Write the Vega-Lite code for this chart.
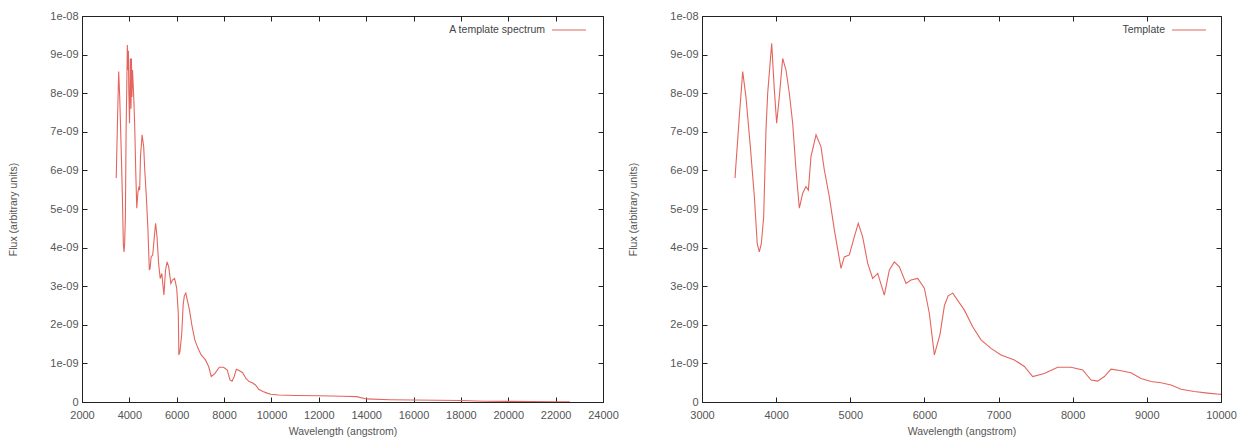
{
  "$schema": "https://vega.github.io/schema/vega-lite/v6.json",
  "autosize": {"type": "pad"},
  "padding": {"left": 8, "top": 9, "right": 0, "bottom": 0},
  "bounds": "flush",
  "spacing": 99,
  "background": "white",
  "config": {
    "view": {"stroke": "#222", "strokeWidth": 1},
    "axis": {
      "labelFont": "Liberation Sans", "labelFontSize": 11, "labelColor": "#555",
      "titleFont": "Liberation Sans", "titleFontSize": 10.5, "titleFontWeight": "normal", "titleColor": "#555",
      "domainColor": "#222", "tickColor": "#222", "grid": false, "tickSize": -5,
      "labelFlush": false, "labelOverlap": false
    },
    "axisX": {"labelPadding": 12, "titlePadding": 6},
    "axisY": {"labelPadding": 9, "titlePadding": 31},
    "legend": {"labelFont": "Liberation Sans", "labelFontSize": 10.5, "labelColor": "#444", "padding": 0},
    "line": {"strokeWidth": 1.1}
  },
  "datasets": {
    "left": [
      {"wavelength": 3445, "flux": 5.8e-9}, {"wavelength": 3503, "flux": 7.39e-9}, {"wavelength": 3549, "flux": 8.56e-9},
      {"wavelength": 3593, "flux": 7.9e-9}, {"wavelength": 3652, "flux": 6.61e-9}, {"wavelength": 3706, "flux": 5.32e-9},
      {"wavelength": 3745, "flux": 4.1e-9}, {"wavelength": 3773, "flux": 3.89e-9}, {"wavelength": 3800, "flux": 4.1e-9},
      {"wavelength": 3832, "flux": 4.8e-9}, {"wavelength": 3863, "flux": 7.05e-9}, {"wavelength": 3886, "flux": 8.0e-9},
      {"wavelength": 3915, "flux": 9.25e-9}, {"wavelength": 3940, "flux": 8.6e-9}, {"wavelength": 3960, "flux": 9.1e-9},
      {"wavelength": 3976, "flux": 8.08e-9}, {"wavelength": 4007, "flux": 7.22e-9}, {"wavelength": 4043, "flux": 8.9e-9},
      {"wavelength": 4070, "flux": 7.6e-9}, {"wavelength": 4088, "flux": 8.9e-9}, {"wavelength": 4110, "flux": 7.9e-9},
      {"wavelength": 4133, "flux": 8.6e-9}, {"wavelength": 4178, "flux": 8.0e-9}, {"wavelength": 4223, "flux": 7.22e-9},
      {"wavelength": 4268, "flux": 6.01e-9}, {"wavelength": 4313, "flux": 5.02e-9}, {"wavelength": 4358, "flux": 5.41e-9},
      {"wavelength": 4403, "flux": 5.58e-9}, {"wavelength": 4435, "flux": 5.49e-9}, {"wavelength": 4470, "flux": 6.36e-9},
      {"wavelength": 4538, "flux": 6.92e-9}, {"wavelength": 4605, "flux": 6.61e-9}, {"wavelength": 4650, "flux": 6.01e-9},
      {"wavelength": 4717, "flux": 5.32e-9}, {"wavelength": 4785, "flux": 4.46e-9}, {"wavelength": 4843, "flux": 3.42e-9},
      {"wavelength": 4875, "flux": 3.46e-9}, {"wavelength": 4919, "flux": 3.76e-9}, {"wavelength": 4987, "flux": 3.81e-9},
      {"wavelength": 5054, "flux": 4.28e-9}, {"wavelength": 5108, "flux": 4.63e-9}, {"wavelength": 5167, "flux": 4.28e-9},
      {"wavelength": 5235, "flux": 3.59e-9}, {"wavelength": 5302, "flux": 3.2e-9}, {"wavelength": 5370, "flux": 3.33e-9},
      {"wavelength": 5459, "flux": 2.77e-9}, {"wavelength": 5527, "flux": 3.42e-9}, {"wavelength": 5594, "flux": 3.63e-9},
      {"wavelength": 5662, "flux": 3.5e-9}, {"wavelength": 5752, "flux": 3.07e-9}, {"wavelength": 5819, "flux": 3.16e-9},
      {"wavelength": 5909, "flux": 3.2e-9}, {"wavelength": 5999, "flux": 2.95e-9}, {"wavelength": 6066, "flux": 2.3e-9},
      {"wavelength": 6090, "flux": 1.22e-9}, {"wavelength": 6134, "flux": 1.3e-9}, {"wavelength": 6210, "flux": 1.75e-9},
      {"wavelength": 6270, "flux": 2.5e-9}, {"wavelength": 6320, "flux": 2.75e-9}, {"wavelength": 6382, "flux": 2.82e-9},
      {"wavelength": 6539, "flux": 2.38e-9}, {"wavelength": 6651, "flux": 1.95e-9}, {"wavelength": 6763, "flux": 1.61e-9},
      {"wavelength": 6898, "flux": 1.39e-9}, {"wavelength": 7033, "flux": 1.22e-9}, {"wavelength": 7213, "flux": 1.09e-9},
      {"wavelength": 7348, "flux": 0.92e-9}, {"wavelength": 7460, "flux": 0.66e-9}, {"wavelength": 7617, "flux": 0.74e-9},
      {"wavelength": 7797, "flux": 0.9e-9}, {"wavelength": 7977, "flux": 0.9e-9}, {"wavelength": 8135, "flux": 0.83e-9},
      {"wavelength": 8247, "flux": 0.57e-9}, {"wavelength": 8337, "flux": 0.54e-9}, {"wavelength": 8427, "flux": 0.66e-9},
      {"wavelength": 8517, "flux": 0.85e-9}, {"wavelength": 8652, "flux": 0.81e-9}, {"wavelength": 8786, "flux": 0.76e-9},
      {"wavelength": 8921, "flux": 0.61e-9}, {"wavelength": 9056, "flux": 0.53e-9}, {"wavelength": 9191, "flux": 0.5e-9},
      {"wavelength": 9326, "flux": 0.44e-9}, {"wavelength": 9461, "flux": 0.33e-9}, {"wavelength": 9640, "flux": 0.27e-9},
      {"wavelength": 9821, "flux": 0.23e-9}, {"wavelength": 9978, "flux": 0.2e-9}, {"wavelength": 10300, "flux": 0.18e-9},
      {"wavelength": 11000, "flux": 0.17e-9}, {"wavelength": 12000, "flux": 0.16e-9}, {"wavelength": 13000, "flux": 0.15e-9},
      {"wavelength": 13600, "flux": 0.14e-9}, {"wavelength": 14000, "flux": 0.08e-9}, {"wavelength": 15000, "flux": 0.06e-9},
      {"wavelength": 16000, "flux": 0.05e-9}, {"wavelength": 17000, "flux": 0.045e-9}, {"wavelength": 18000, "flux": 0.04e-9},
      {"wavelength": 19000, "flux": 0.02e-9}, {"wavelength": 20000, "flux": 0.015e-9}, {"wavelength": 21000, "flux": 0.01e-9},
      {"wavelength": 22000, "flux": 0.008e-9}, {"wavelength": 22600, "flux": 0.005e-9}
    ],
    "right": [
      {"wavelength": 3445, "flux": 5.8e-9}, {"wavelength": 3503, "flux": 7.39e-9}, {"wavelength": 3549, "flux": 8.56e-9},
      {"wavelength": 3593, "flux": 7.9e-9}, {"wavelength": 3652, "flux": 6.61e-9}, {"wavelength": 3706, "flux": 5.32e-9},
      {"wavelength": 3745, "flux": 4.1e-9}, {"wavelength": 3773, "flux": 3.89e-9}, {"wavelength": 3800, "flux": 4.1e-9},
      {"wavelength": 3832, "flux": 4.8e-9}, {"wavelength": 3863, "flux": 7.05e-9}, {"wavelength": 3886, "flux": 8.0e-9},
      {"wavelength": 3940, "flux": 9.29e-9}, {"wavelength": 3976, "flux": 8.08e-9}, {"wavelength": 4007, "flux": 7.22e-9},
      {"wavelength": 4043, "flux": 7.91e-9}, {"wavelength": 4088, "flux": 8.9e-9}, {"wavelength": 4133, "flux": 8.6e-9},
      {"wavelength": 4178, "flux": 8.0e-9}, {"wavelength": 4223, "flux": 7.22e-9}, {"wavelength": 4268, "flux": 6.01e-9},
      {"wavelength": 4313, "flux": 5.02e-9}, {"wavelength": 4358, "flux": 5.41e-9}, {"wavelength": 4403, "flux": 5.58e-9},
      {"wavelength": 4435, "flux": 5.49e-9}, {"wavelength": 4470, "flux": 6.36e-9}, {"wavelength": 4538, "flux": 6.92e-9},
      {"wavelength": 4605, "flux": 6.61e-9}, {"wavelength": 4650, "flux": 6.01e-9}, {"wavelength": 4717, "flux": 5.32e-9},
      {"wavelength": 4785, "flux": 4.46e-9}, {"wavelength": 4875, "flux": 3.46e-9}, {"wavelength": 4919, "flux": 3.76e-9},
      {"wavelength": 4987, "flux": 3.81e-9}, {"wavelength": 5054, "flux": 4.28e-9}, {"wavelength": 5108, "flux": 4.63e-9},
      {"wavelength": 5167, "flux": 4.28e-9}, {"wavelength": 5235, "flux": 3.59e-9}, {"wavelength": 5302, "flux": 3.2e-9},
      {"wavelength": 5370, "flux": 3.33e-9}, {"wavelength": 5459, "flux": 2.77e-9}, {"wavelength": 5527, "flux": 3.42e-9},
      {"wavelength": 5594, "flux": 3.63e-9}, {"wavelength": 5662, "flux": 3.5e-9}, {"wavelength": 5752, "flux": 3.07e-9},
      {"wavelength": 5819, "flux": 3.16e-9}, {"wavelength": 5909, "flux": 3.2e-9}, {"wavelength": 5999, "flux": 2.95e-9},
      {"wavelength": 6066, "flux": 2.3e-9}, {"wavelength": 6134, "flux": 1.22e-9}, {"wavelength": 6210, "flux": 1.75e-9},
      {"wavelength": 6270, "flux": 2.5e-9}, {"wavelength": 6320, "flux": 2.75e-9}, {"wavelength": 6382, "flux": 2.82e-9},
      {"wavelength": 6539, "flux": 2.38e-9}, {"wavelength": 6651, "flux": 1.95e-9}, {"wavelength": 6763, "flux": 1.61e-9},
      {"wavelength": 6898, "flux": 1.39e-9}, {"wavelength": 7033, "flux": 1.22e-9}, {"wavelength": 7213, "flux": 1.09e-9},
      {"wavelength": 7348, "flux": 0.92e-9}, {"wavelength": 7460, "flux": 0.66e-9}, {"wavelength": 7617, "flux": 0.74e-9},
      {"wavelength": 7797, "flux": 0.9e-9}, {"wavelength": 7977, "flux": 0.9e-9}, {"wavelength": 8135, "flux": 0.83e-9},
      {"wavelength": 8247, "flux": 0.57e-9}, {"wavelength": 8337, "flux": 0.54e-9}, {"wavelength": 8427, "flux": 0.66e-9},
      {"wavelength": 8517, "flux": 0.85e-9}, {"wavelength": 8652, "flux": 0.81e-9}, {"wavelength": 8786, "flux": 0.76e-9},
      {"wavelength": 8921, "flux": 0.61e-9}, {"wavelength": 9056, "flux": 0.53e-9}, {"wavelength": 9191, "flux": 0.5e-9},
      {"wavelength": 9326, "flux": 0.44e-9}, {"wavelength": 9461, "flux": 0.33e-9}, {"wavelength": 9640, "flux": 0.27e-9},
      {"wavelength": 9821, "flux": 0.23e-9}, {"wavelength": 9978, "flux": 0.2e-9}, {"wavelength": 10100, "flux": 0.19e-9}
    ]
  },
  "hconcat": [
    {
      "width": 521, "height": 386,
      "data": {"name": "left"},
      "layer": [
        {
          "mark": {"type": "line", "clip": true},
          "encoding": {
            "x": {"field": "wavelength", "type": "quantitative",
                  "scale": {"domain": [2000, 24000], "nice": false, "zero": false},
                  "axis": {"orient": "bottom", "title": "Wavelength (angstrom)", "values": [2000, 4000, 6000, 8000, 10000, 12000, 14000, 16000, 18000, 20000, 22000, 24000], "format": "d"}},
            "y": {"field": "flux", "type": "quantitative",
                  "scale": {"domain": [0, 1e-8], "nice": false, "zero": true},
                  "axis": {"orient": "left", "title": "Flux (arbitrary units)", "values": [0, 1e-9, 2e-9, 3e-9, 4e-9, 5e-9, 6e-9, 7e-9, 8e-9, 9e-9, 1e-8],
                           "labelExpr": "datum.value == 0 ? '0' : (round(datum.value*1e9) == 10 ? '1e-08' : round(datum.value*1e9) + 'e-09')"}},
            "color": {"datum": "A template spectrum", "type": "nominal",
                      "scale": {"range": ["#e4655e"]},
                      "legend": {"title": null, "orient": "none", "legendX": 469, "legendY": -4, "symbolType": "stroke", "symbolSize": 1150, "symbolStrokeWidth": 1.1, "labelAlign": "right", "labelOffset": -42}}
          }
        },
        {
          "mark": {"type": "line", "strokeOpacity": 0},
          "encoding": {
            "x": {"field": "wavelength", "type": "quantitative", "axis": {"orient": "top", "labels": false, "title": null, "domain": false, "values": [2000, 4000, 6000, 8000, 10000, 12000, 14000, 16000, 18000, 20000, 22000, 24000]}},
            "y": {"field": "flux", "type": "quantitative", "axis": {"orient": "right", "labels": false, "title": null, "domain": false, "values": [0, 1e-9, 2e-9, 3e-9, 4e-9, 5e-9, 6e-9, 7e-9, 8e-9, 9e-9, 1e-8]}}
          }
        }
      ],
      "resolve": {"axis": {"x": "independent", "y": "independent"}}
    },
    {
      "width": 519, "height": 386,
      "data": {"name": "right"},
      "layer": [
        {
          "mark": {"type": "line", "clip": true},
          "encoding": {
            "x": {"field": "wavelength", "type": "quantitative",
                  "scale": {"domain": [3000, 10000], "nice": false, "zero": false},
                  "axis": {"orient": "bottom", "title": "Wavelength (angstrom)", "values": [3000, 4000, 5000, 6000, 7000, 8000, 9000, 10000], "format": "d"}},
            "y": {"field": "flux", "type": "quantitative",
                  "scale": {"domain": [0, 1e-8], "nice": false, "zero": true},
                  "axis": {"orient": "left", "title": "Flux (arbitrary units)", "values": [0, 1e-9, 2e-9, 3e-9, 4e-9, 5e-9, 6e-9, 7e-9, 8e-9, 9e-9, 1e-8],
                           "labelExpr": "datum.value == 0 ? '0' : (round(datum.value*1e9) == 10 ? '1e-08' : round(datum.value*1e9) + 'e-09')"}},
            "color": {"datum": "Template", "type": "nominal",
                      "scale": {"range": ["#e4655e"]},
                      "legend": {"title": null, "orient": "none", "legendX": 469, "legendY": -4, "symbolType": "stroke", "symbolSize": 1150, "symbolStrokeWidth": 1.1, "labelAlign": "right", "labelOffset": -42}}
          }
        },
        {
          "mark": {"type": "line", "strokeOpacity": 0},
          "encoding": {
            "x": {"field": "wavelength", "type": "quantitative", "axis": {"orient": "top", "labels": false, "title": null, "domain": false, "values": [3000, 4000, 5000, 6000, 7000, 8000, 9000, 10000]}},
            "y": {"field": "flux", "type": "quantitative", "axis": {"orient": "right", "labels": false, "title": null, "domain": false, "values": [0, 1e-9, 2e-9, 3e-9, 4e-9, 5e-9, 6e-9, 7e-9, 8e-9, 9e-9, 1e-8]}}
          }
        }
      ],
      "resolve": {"axis": {"x": "independent", "y": "independent"}}
    }
  ],
  "resolve": {"scale": {"color": "independent"}, "legend": {"color": "independent"}}
}
